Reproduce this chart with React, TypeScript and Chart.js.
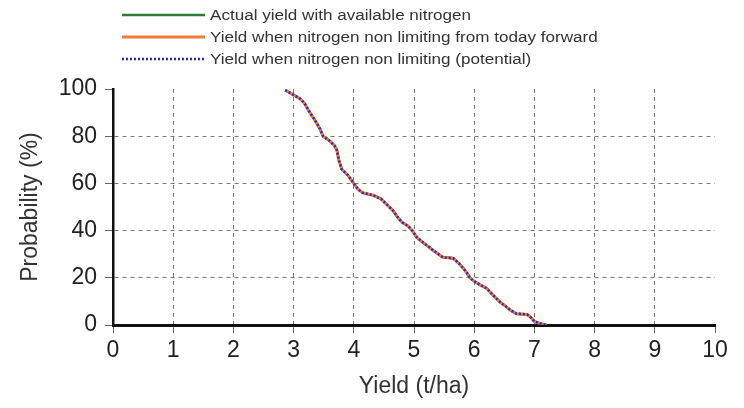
import React, { useEffect, useRef } from "react";
import { Chart, registerables } from "chart.js";

Chart.register(...registerables);

// Probability of exceedance (%) vs yield (t/ha)
const probability = [
  99.5, 97.5, 96, 94, 90, 87, 83, 80, 78, 76, 74, 70, 66, 63.5, 60, 57.5, 56, 55, 53.5, 51,
  48.5, 46, 43.5, 42, 40, 37, 35, 31.6, 28.7, 28.3, 26, 24, 22, 20, 18.5, 17, 15.5, 13, 9.7,
  8, 6.3, 4.8, 4.5, 3, 1.5, 0.6, 0,
];
const yieldActual = [
  2.86, 3.0, 3.1, 3.18, 3.27, 3.35, 3.44, 3.49, 3.6, 3.68, 3.72, 3.75, 3.8, 3.9, 4.0, 4.07,
  4.15, 4.32, 4.45, 4.55, 4.65, 4.72, 4.8, 4.9, 4.97, 5.05, 5.15, 5.32, 5.48, 5.65, 5.75,
  5.82, 5.88, 5.93, 6.0, 6.1, 6.21, 6.3, 6.43, 6.52, 6.6, 6.7, 6.88, 6.95, 7.0, 7.1, 7.2,
];
const yieldFromToday = [...yieldActual];
const yieldPotential = [...yieldActual];

const seriesLabels = [
  "Actual yield with available nitrogen",
  "Yield when nitrogen non limiting from today forward",
  "Yield when nitrogen non limiting (potential)",
];
const xTicks = [0, 1, 2, 3, 4, 5, 6, 7, 8, 9, 10];
const yTicks = [0, 20, 40, 60, 80, 100];

const FONT = '"Liberation Sans", Arial, Helvetica, sans-serif';

const toPoints = (xs: number[], ys: number[]) => xs.map((x, i) => ({ x, y: ys[i] }));

const legendPlugin = {
  id: "customLegend",
  afterDraw(chart: any) {
    const ctx = chart.ctx as CanvasRenderingContext2D;
    const items = [chart.data.datasets[0], chart.data.datasets[1], chart.data.datasets[2]];
    items.forEach((ds: any, i: number) => {
      const y = 15 + i * 22;
      ctx.save();
      ctx.strokeStyle = ds.borderColor;
      ctx.lineWidth = ds.borderWidth;
      ctx.setLineDash(ds.borderDash || []);
      ctx.beginPath();
      ctx.moveTo(122, y);
      ctx.lineTo(205, y);
      ctx.stroke();
      ctx.setLineDash([]);
      ctx.translate(210, y + 1);
      ctx.scale(1.22, 1);
      ctx.font = `14px ${FONT}`;
      ctx.fillStyle = "#333";
      ctx.textBaseline = "middle";
      ctx.fillText(ds.label, 0, 0);
      ctx.restore();
    });
  },
};

export default function App() {
  const ref = useRef<HTMLCanvasElement | null>(null);

  useEffect(() => {
    if (!ref.current) return;
    const chart = new Chart(ref.current, {
      type: "scatter",
      data: {
        datasets: [
          {
            label: seriesLabels[0],
            data: toPoints(yieldActual, probability),
            showLine: true,
            borderColor: "#2e7d3a",
            backgroundColor: "#2e7d3a",
            borderWidth: 2.5,
            pointRadius: 0,
            order: 3,
          },
          {
            label: seriesLabels[1],
            data: toPoints(yieldFromToday, probability),
            showLine: true,
            borderColor: "#f07a3a",
            backgroundColor: "#f07a3a",
            borderWidth: 3,
            pointRadius: 0,
            order: 2,
          },
          {
            label: seriesLabels[2],
            data: toPoints(yieldPotential, probability),
            showLine: true,
            borderColor: "#2828c8",
            backgroundColor: "#2828c8",
            borderWidth: 2.5,
            borderDash: [2, 2],
            pointRadius: 0,
            order: 1,
          },
        ],
      },
      options: {
        responsive: false,
        animation: false,
        layout: { padding: { left: 0, right: 29, top: 89, bottom: 0 } },
        plugins: { legend: { display: false }, tooltip: { enabled: false } },
        scales: {
          x: {
            type: "linear",
            min: 0,
            max: 10,
            afterBuildTicks: (s: any) => {
              s.ticks = xTicks.map((v) => ({ value: v }));
            },
            afterFit: (s: any) => {
              s.height = 83;
            },
            ticks: {
              color: "#222",
              font: { family: FONT, size: 23 },
              padding: 4,
              maxRotation: 0,
            },
            grid: {
              color: (c: any) => (c.tick && (c.tick.value === 0 || c.tick.value === 10) ? "rgba(0,0,0,0)" : "#7a7a7a"),
              lineWidth: 1,
              tickColor: "#666",
              tickLength: 8,
              tickBorderDash: [],
            },
            border: { display: true, color: "#111", width: 3, dash: [4, 4] },
            title: {
              display: true,
              text: "Yield (t/ha)",
              color: "#333",
              font: { family: FONT, size: 23 },
              padding: { top: 0, bottom: 8 },
            },
          },
          y: {
            type: "linear",
            min: 0,
            max: 100,
            afterBuildTicks: (s: any) => {
              s.ticks = yTicks.map((v) => ({ value: v }));
            },
            afterFit: (s: any) => {
              s.width = 113;
            },
            ticks: {
              color: "#222",
              font: { family: FONT, size: 23 },
              padding: 8,
            },
            grid: {
              color: (c: any) => (c.tick && (c.tick.value === 0 || c.tick.value === 100) ? "rgba(0,0,0,0)" : "#7a7a7a"),
              lineWidth: 1,
              tickColor: "#666",
              tickLength: 8,
              tickBorderDash: [],
            },
            border: { display: true, color: "#111", width: 2.5, dash: [4, 4] },
            title: {
              display: true,
              text: "Probability (%)",
              color: "#333",
              font: { family: FONT, size: 23 },
              padding: { top: 17, bottom: 0 },
            },
          },
        },
      },
      plugins: [legendPlugin],
    } as any);
    return () => chart.destroy();
  }, []);

  return (
    <div style={{ position: "absolute", left: 0, top: 0, width: 744, height: 408, background: "#fff" }}>
      <canvas ref={ref} width={744} height={408} style={{ display: "block" }} />
    </div>
  );
}
